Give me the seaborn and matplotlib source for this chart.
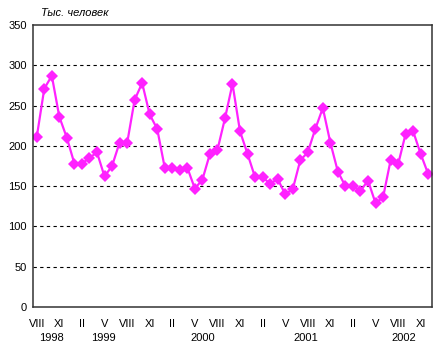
import matplotlib
matplotlib.use("Agg")
import matplotlib.pyplot as plt
import seaborn as sns
import pandas as pd

# monthly values, Aug 1998 .. Dec 2002 (thousand people)
values = [
    211, 271, 287, 236, 210,
    178, 178, 185, 192, 162, 175, 204, 203, 257, 278, 239, 221,
    173, 173, 170, 173, 147, 158, 190, 195, 234, 277, 218, 190,
    161, 161, 153, 159, 140, 146, 182, 192, 221, 247, 204, 168,
    150, 150, 144, 157, 129, 136, 182, 177, 215, 218, 190, 165,
]
month_labels = ["VIII", "XI", "II", "V"]
years = ["1998", "1999", "2000", "2001", "2002"]
year_pos = [1.9, 8.9, 22.1, 35.7, 48.7]

df = pd.DataFrame({"idx": range(len(values)), "value": values})

sns.set_style("white")
plt.rcParams["font.family"] = ["Liberation Sans", "DejaVu Sans"]
plt.rcParams["text.color"] = "black"
plt.rcParams["xtick.color"] = "black"
plt.rcParams["ytick.color"] = "black"

fig = plt.figure(figsize=(4.47, 3.59), dpi=100)
ax = fig.add_axes([0.0738, 0.1448, 0.8926, 0.7856])

sns.lineplot(data=df, x="idx", y="value", ax=ax, color="#ff22ff",
             linewidth=1.6, marker="D", markersize=5.8, markeredgewidth=0,
             markerfacecolor="#ff22ff")

ax.set_xlim(-0.5, len(values) - 0.5)
ax.set_ylim(0, 350)
ax.set_yticks(range(0, 351, 50))
ax.tick_params(axis="y", labelsize=8, length=0, pad=4.5)
ticks = list(range(0, len(values), 3))
ax.set_xticks(ticks)
ax.set_xticklabels([month_labels[i % 4] for i in range(len(ticks))])
ax.tick_params(axis="x", labelsize=8, length=0, pad=8.5)
for y in range(50, 301, 50):
    ax.axhline(y, color="black", linestyle=(0, (3, 3)), linewidth=0.8, zorder=0)
for s in ax.spines.values():
    s.set_color("#333333")
    s.set_linewidth(1.1)
ax.set_xlabel("")
ax.set_ylabel("")

for yr, pos in zip(years, year_pos):
    ax.text(pos, -0.11, yr, transform=ax.get_xaxis_transform(),
            ha="center", va="center", fontsize=8)

fig.text(0.092, 0.965, "Тыс. человек", fontsize=8, style="italic",
         ha="left", va="center")

fig.savefig("out.png", dpi=100)
